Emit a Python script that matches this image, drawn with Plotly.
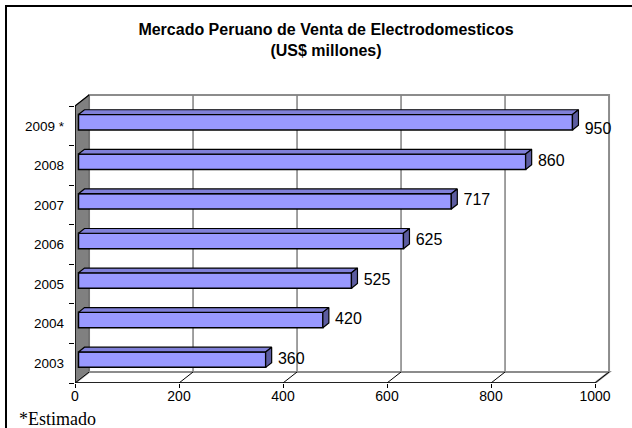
import plotly.graph_objects as go

# ---- data ----
years = ["2003", "2004", "2005", "2006", "2007", "2008", "2009 *"]
values = [360, 470, 525, 625, 717, 860, 950]          # bar lengths as drawn
value_labels = ["360", "420", "525", "625", "717", "860", "950"]  # printed labels
x_ticks = [0, 200, 400, 600, 800, 1000]
label_positions = ["middle right"] * 6 + ["bottom right"]

# ---- geometry (data units) ----
W, H = 632, 428
ML, MR, MT, MB = 75, 18, 92, 45
PX_PER_X = 0.52      # pixels per x unit
PX_PER_Y = 39.57     # pixels per category
N = len(years)
XMAX = x_ticks[-1]
DX, DY = 27.0, 0.278          # depth of the 3D walls
FX, FY = 6.7, 0.09            # bar front-plane offset
BH = 0.39                     # bar thickness
BDX, BDY = 11.5, 0.12         # bar depth
GAP = 12.0                    # label gap

x_range = [0, (W - ML - MR) / PX_PER_X]
y_range = [0, (H - MT - MB) / PX_PER_Y]

centers = [i + 0.5 + FY for i in range(N)]

fig = go.Figure()

# front faces of the bars
fig.add_trace(go.Bar(
    orientation="h", y=centers, x=values, base=FX, width=BH,
    marker=dict(color="#9999FF", line=dict(color="black", width=1.5)),
    hoverinfo="skip", showlegend=False))

# top faces
tx, ty = [], []
for c, v in zip(centers, values):
    t = c + BH / 2
    tx += [FX, FX + v, FX + v + BDX, FX + BDX, FX, None]
    ty += [t, t, t + BDY, t + BDY, t, None]
fig.add_trace(go.Scatter(x=tx, y=ty, mode="lines", fill="toself",
                         fillcolor="#8080D8", line=dict(color="black", width=1.2),
                         hoverinfo="skip", showlegend=False))

# end faces
ex, ey = [], []
for c, v in zip(centers, values):
    b, t = c - BH / 2, c + BH / 2
    ex += [FX + v, FX + v + BDX, FX + v + BDX, FX + v, FX + v, None]
    ey += [b, b + BDY, t + BDY, t, b, None]
fig.add_trace(go.Scatter(x=ex, y=ey, mode="lines", fill="toself",
                         fillcolor="#5C5CA0", line=dict(color="black", width=1.2),
                         hoverinfo="skip", showlegend=False))

# data labels
fig.add_trace(go.Scatter(
    x=[v + FX + BDX + GAP for v in values], y=centers, mode="text",
    text=value_labels, textposition=label_positions,
    textfont=dict(family="Liberation Sans", size=16, color="black"),
    hoverinfo="skip", showlegend=False, cliponaxis=False))

# ---- walls, floor, grid (shapes below traces) ----
shapes = []
shapes.append(dict(type="rect", xref="x", yref="y", x0=DX, x1=XMAX + DX, y0=DY, y1=N + DY,
                   fillcolor="white", line=dict(color="#8C8C8C", width=2), layer="below"))
for v in x_ticks[1:-1]:
    shapes.append(dict(type="line", xref="x", yref="y", x0=v + DX, x1=v + DX, y0=DY, y1=N + DY,
                       line=dict(color="#808080", width=1.5), layer="below"))
shapes.append(dict(type="path", xref="x", yref="y",
                   path=f"M0,0 L{DX},{DY} L{DX},{N + DY} L0,{N} Z",
                   fillcolor="#808080", line=dict(color="#606060", width=1), layer="below"))
shapes.append(dict(type="path", xref="x", yref="y",
                   path=f"M0,0 L{XMAX},0 L{XMAX + DX},{DY} L{DX},{DY} Z",
                   fillcolor="white", line=dict(color="#8C8C8C", width=2), layer="below"))
for v in x_ticks:
    shapes.append(dict(type="line", xref="x", yref="y", x0=v, x1=v + DX, y0=0, y1=DY,
                       line=dict(color="black", width=1), layer="below"))
shapes.append(dict(type="line", xref="x", yref="y", x0=0, x1=DX, y0=N, y1=N + DY,
                   line=dict(color="black", width=1.2), layer="below"))
shapes.append(dict(type="line", xref="x", yref="y", x0=0, x1=XMAX, y0=0, y1=0,
                   line=dict(color="black", width=1.5), layer="below"))
shapes.append(dict(type="line", xref="x", yref="y", x0=0, x1=0, y0=0, y1=N,
                   line=dict(color="black", width=1.5), layer="below"))

# outer chart frame (paper coords from pixel positions)
pw, ph = W - ML - MR, H - MT - MB
def px_to_paper_x(px):
    return (px - ML) / pw
def px_to_paper_y(py):
    return 1 - (py - MT) / ph
shapes.append(dict(type="rect", xref="paper", yref="paper",
                   x0=px_to_paper_x(6), x1=px_to_paper_x(645),
                   y0=px_to_paper_y(445), y1=px_to_paper_y(6),
                   line=dict(color="black", width=2), fillcolor="rgba(0,0,0,0)", layer="below"))

fig.update_layout(
    width=W, height=H,
    margin=dict(l=ML, r=MR, t=MT, b=MB),
    paper_bgcolor="white", plot_bgcolor="white",
    shapes=shapes,
    title=dict(text="<b>Mercado Peruano de Venta de Electrodomesticos</b><br><b>(US$ millones)</b>",
               x=326 / W, xanchor="center", xref="container",
               y=1 - 35 / H, yanchor="middle", yref="container",
               font=dict(family="Liberation Sans", size=16, color="black")),
    xaxis=dict(range=x_range, tickvals=x_ticks, ticks="outside", ticklen=4,
               tickcolor="black", showgrid=False, zeroline=False, showline=False,
               ticklabelstandoff=-4,
               tickfont=dict(family="Liberation Sans", size=14, color="black"),
               fixedrange=True),
    yaxis=dict(range=y_range, tickvals=[i + 0.5 for i in range(N)], ticktext=years,
               ticks="", showgrid=False, zeroline=False, showline=False,
               ticklabelstandoff=10,
               minor=dict(tickvals=list(range(N + 1)), ticks="outside", ticklen=5,
                          tickcolor="black", showgrid=False),
               tickfont=dict(family="Liberation Sans", size=13.5, color="black"),
               fixedrange=True),
    annotations=[dict(text="*Estimado", xref="paper", yref="paper",
                      x=px_to_paper_x(17), y=px_to_paper_y(419),
                      xanchor="left", yanchor="middle", showarrow=False,
                      font=dict(family="Liberation Serif", size=18, color="black"))],
)

fig.write_html("out.html")
